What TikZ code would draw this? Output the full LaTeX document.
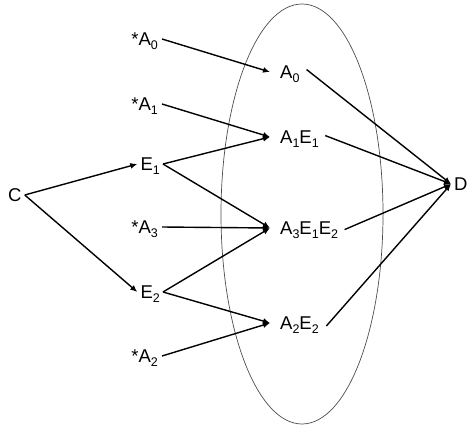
\documentclass[tikz,border=0pt]{standalone}
\usepackage{fontspec}
\setmainfont{Liberation Sans}
\usetikzlibrary{arrows.meta}
\newcommand{\sbs}[1]{\raisebox{-0.45ex}{\fontsize{12.5}{14}\selectfont #1}}

\begin{document}
\begin{tikzpicture}[x=1pt, y=-1pt,
        every node/.style={font=\fontsize{18.5}{22}\selectfont, text depth=0pt, inner ysep=2pt},
        src/.style={anchor=east, inner xsep=4pt},
        tgt/.style={anchor=west, inner xsep=10pt},
        arr/.style={draw, line width=1.4pt, -{Latex[length=7pt, width=6pt]}},
        ring/.style={draw=black!70, line width=0.7pt}
    ]
    \useasboundingbox (0,0) rectangle (470,427);
    \draw[ring] (302,214) ellipse [x radius=81pt, y radius=210pt];

    % left column
    \node[anchor=west, inner xsep=3pt] (C) at (5,195) {C};
    \node[src, inner xsep=3pt] (E1) at (163,164) {E\sbs{1}};
    \node[src, inner xsep=3pt] (E2) at (163,292) {E\sbs{2}};
    \node[src] (sA0) at (162,39) {*A\sbs{0}};
    \node[src] (sA1) at (162,104) {*A\sbs{1}};
    \node[src] (sA3) at (162,227) {*A\sbs{3}};
    \node[src] (sA2) at (162,356) {*A\sbs{2}};

    % inside the ellipse
    \node[tgt] (A0) at (270,72) {A\sbs{0}};
    \node[tgt] (A1E1) at (270,137) {A\sbs{1}E\sbs{1}};
    \node[tgt] (A3E1E2) at (270,228) {A\sbs{3}E\sbs{1}E\sbs{2}};
    \node[tgt] (A2E2) at (270,323) {A\sbs{2}E\sbs{2}};

    \node[anchor=west, inner xsep=3pt] (D) at (451,184) {D};

    % connectors
    \draw[arr] (C.east) -- (E1.west);
    \draw[arr] (C.east) -- (E2.west);
    \draw[arr] (sA0.east) -- (A0.west);
    \draw[arr] (sA1.east) -- (A1E1.west);
    \draw[arr] (E1.east) -- (A1E1.west);
    \draw[arr] (E1.east) -- (A3E1E2.west);
    \draw[arr] (sA3.east) -- (A3E1E2.west);
    \draw[arr] (E2.east) -- (A3E1E2.west);
    \draw[arr] (E2.east) -- (A2E2.west);
    \draw[arr] (sA2.east) -- (A2E2.west);
    % lines to D start close to the labels
    \draw[arr, shorten <=-4pt] (A0.east) -- (D.west);
    \draw[arr, shorten <=-4pt] (A1E1.east) -- (D.west);
    \draw[arr, shorten <=-4pt] (A3E1E2.east) -- (D.west);
    \draw[arr, shorten <=-4pt] (A2E2.east) -- (D.west);
\end{tikzpicture}
\end{document}
